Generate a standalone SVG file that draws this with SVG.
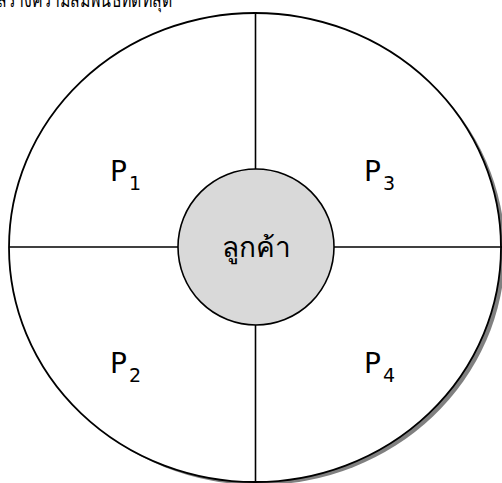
<svg xmlns="http://www.w3.org/2000/svg" width="502" height="483" viewBox="0 0 502 483">
<style>
.ln{stroke:#000;stroke-width:1.6;fill:none}
.lbl{font-family:"DejaVu Sans","Noto Sans",sans-serif;font-size:28px;fill:#000}
.sub{font-size:19px}
</style>
<rect width="502" height="483" fill="#fff"/>
<text x="-3" y="7" textLength="175" lengthAdjust="spacingAndGlyphs" style="font-family:'Noto Sans','DejaVu Sans',sans-serif;font-size:20px" fill="#000">สร้างความสัมพันธ์ที่ดีที่สุด</text>
<g id="outer">
<ellipse cx="259" cy="251" rx="246" ry="234" fill="#808080"/>
<ellipse cx="255" cy="247.5" rx="246" ry="234.5" fill="#fff" stroke="#000" stroke-width="1.8"/>
</g>
<g id="connectors">
<line class="ln" x1="9" y1="247" x2="178" y2="247"/>
<line class="ln" x1="334" y1="247" x2="502" y2="247"/>
<line class="ln" x1="255.5" y1="13" x2="255.5" y2="169"/>
<line class="ln" x1="255.5" y1="325" x2="255.5" y2="482"/>
</g>
<g id="center">
<circle cx="256" cy="247" r="78" fill="#d9d9d9" stroke="#000" stroke-width="1.6"/>
<text x="256" y="257" text-anchor="middle" font-family="Noto Sans, sans-serif" font-size="28" fill="#000">ลูกค้า</text>
</g>
<g id="p1"><text class="lbl" x="110" y="181">P<tspan class="sub" dy="9" dx="2">1</tspan></text></g>
<g id="p3"><text class="lbl" x="364" y="181">P<tspan class="sub" dy="9" dx="2">3</tspan></text></g>
<g id="p2"><text class="lbl" x="110" y="373">P<tspan class="sub" dy="9" dx="2">2</tspan></text></g>
<g id="p4"><text class="lbl" x="364" y="373">P<tspan class="sub" dy="9" dx="2">4</tspan></text></g>
</svg>
